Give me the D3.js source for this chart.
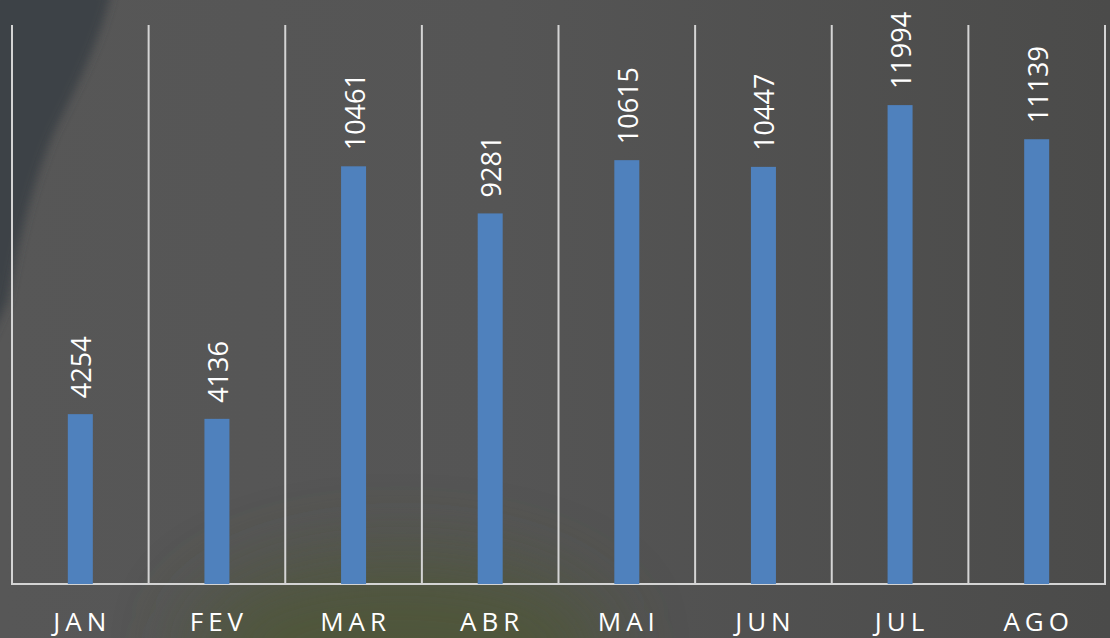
<!DOCTYPE html>
<html>
<head>
<meta charset="utf-8">
<script src="https://cdn.jsdelivr.net/npm/d3@7"></script>
<style>
  html, body { margin: 0; padding: 0; background: #545454; }
  svg { display: block; }
</style>
</head>
<body>
<div id="chart"></div>
<script>
// chart data
var months = ['JAN', 'FEV', 'MAR', 'ABR', 'MAI', 'JUN', 'JUL', 'AGO']
var totals = [4254, 4136, 10461, 9281, 10615, 10447, 11994, 11139]
var yMax = 14000

var width = 1110, height = 638
var margin = {top: 25, right: 5, bottom: 54, left: 12}

var svg = d3.select('#chart').append('svg')
	.attr('width', width)
	.attr('height', height)

// background -- a photo behind the chart, faked with gradients
var defs = svg.append('defs')
var base = defs.append('linearGradient').attr('id', 'base')
	.attr('x1', 0).attr('y1', 0).attr('x2', 1).attr('y2', 0)
base.append('stop').attr('offset', '0%').attr('stop-color', '#575757')
base.append('stop').attr('offset', '45%').attr('stop-color', '#555555')
base.append('stop').attr('offset', '100%').attr('stop-color', '#4b4b4a')
defs.append('filter').attr('id', 'soft')
	.append('feGaussianBlur').attr('stdDeviation', 5)
defs.append('filter').attr('id', 'haze')
	.attr('x', '-50%').attr('y', '-50%').attr('width', '200%').attr('height', '200%')
	.append('feGaussianBlur').attr('stdDeviation', 40)

svg.append('rect').attr('width', width).attr('height', height).attr('fill', 'url(#base)')
// greenish haze along the bottom
svg.append('ellipse')
	.attr('cx', 400).attr('cy', 650).attr('rx', 210).attr('ry', 90)
	.attr('fill', '#4d5731').attr('opacity', 0.75)
	.attr('filter', 'url(#haze)')
// dark corner, top left
svg.append('path')
	.attr('d', 'M-10,-10 L112,-10 C100,40 80,80 55,130 C35,175 18,240 8,300 L-10,340 Z')
	.attr('fill', '#3d4246')
	.attr('filter', 'url(#soft)')

var x = d3.scaleBand()
	.domain(months)
	.range([margin.left, width - margin.right])

var y = d3.scaleLinear()
	.domain([0, yMax])
	.range([height - margin.bottom, margin.top])

var g = svg.append('g')

// vertical separators between categories
var edges = months.map(function(m) { return x(m) }).concat([x.range()[1]])
g.selectAll('.sep').data(edges).enter().append('line')
	.attr('class', 'sep')
	.attr('x1', function(d) { return d }).attr('x2', function(d) { return d })
	.attr('y1', y(yMax)).attr('y2', y(0))
	.attr('stroke', '#d4d4d4').attr('stroke-width', 2)

// baseline
g.append('line')
	.attr('x1', x.range()[0] - 1).attr('x2', x.range()[1] + 1)
	.attr('y1', y(0)).attr('y2', y(0))
	.attr('stroke', '#d4d4d4').attr('stroke-width', 2)

var barW = 25
g.selectAll('.bar').data(totals).enter().append('rect')
	.attr('class', 'bar')
	.attr('x', function(d, i) { return x(months[i]) + x.bandwidth() / 2 - barW / 2 })
	.attr('y', function(d) { return y(d) })
	.attr('width', barW)
	.attr('height', function(d) { return y(0) - y(d) })
	.attr('fill', '#4f81bd')

// value labels, rotated
g.selectAll('.val').data(totals).enter().append('text')
	.attr('class', 'val')
	.attr('transform', function(d, i) {
		var cx = x(months[i]) + x.bandwidth() / 2 + 11
		return 'translate(' + cx + ',' + (y(d) - 16) + ') rotate(-90)'
	})
	.attr('text-anchor', 'start')
	.style('font-family', '"Open Sans", sans-serif')
	.style('font-size', '27px')
	.attr('fill', '#ffffff')
	.text(function(d) { return d })

// category labels
g.selectAll('.cat').data(months).enter().append('text')
	.attr('class', 'cat')
	.attr('x', function(d) { return x(d) + x.bandwidth() / 2 + 2 })
	.attr('y', 631)
	.attr('text-anchor', 'middle')
	.style('font-family', '"Open Sans", sans-serif')
	.style('font-size', '26px')
	.style('letter-spacing', '5px')
	.attr('fill', '#ffffff')
	.text(function(d) { return d })
</script>
</body>
</html>
